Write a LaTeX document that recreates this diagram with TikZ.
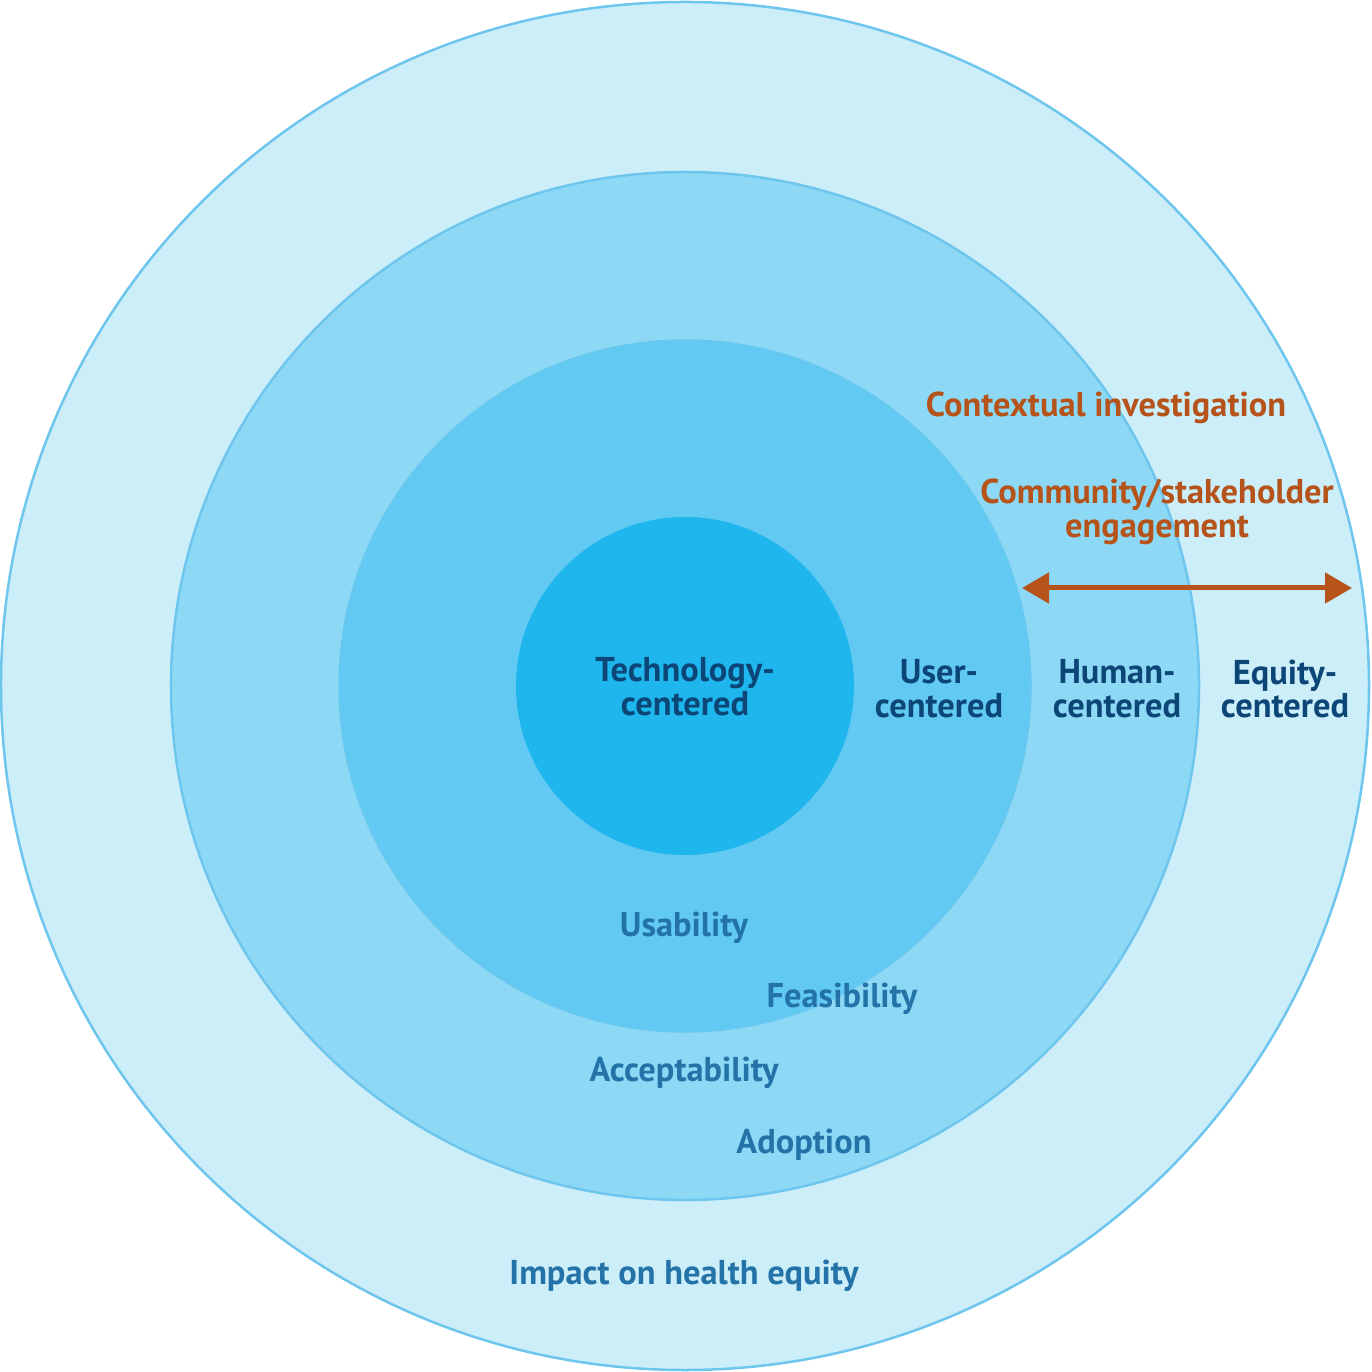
\documentclass[tikz,border=0pt]{standalone}
\usepackage{fontspec}
\setmainfont{PT Sans}
\usepackage{tikz}
\usetikzlibrary{arrows.meta}

\definecolor{ringA}{HTML}{CCEEF9}
\definecolor{ringB}{HTML}{8DD9F5}
\definecolor{ringC}{HTML}{62CAF2}
\definecolor{ringD}{HTML}{1EB6ED}
\definecolor{ringline}{HTML}{6EC6EE}
\definecolor{navy}{HTML}{0B4677}
\definecolor{steel}{HTML}{2473A8}
\definecolor{rust}{HTML}{B5531A}

\begin{document}
\begin{tikzpicture}
\tikzstyle{level}=[font=\bfseries\fontsize{9.8}{9.6}\selectfont,text=navy,align=center,inner sep=0pt]
\tikzstyle{measure}=[font=\bfseries\fontsize{9.8}{9.6}\selectfont,text=steel,inner sep=0pt]
\tikzstyle{method}=[font=\bfseries\fontsize{9.8}{9.6}\selectfont,text=rust,align=center,inner sep=0pt]
\useasboundingbox (-6.85,-6.86) rectangle (6.87,6.86);
% rings
\fill[ringA,draw=ringline,line width=0.25mm] (0,0) circle (6.84);
\fill[ringB,draw=ringline,line width=0.25mm] (0,0) circle (5.14);
\fill[ringC,draw=ringline!60!ringC,line width=0.15mm] (0,0) circle (3.46);
\fill[ringD] (0,0) circle (1.69);
% levels
\foreach \name/\point/\txt in {
	tech/{0,-0.01}/Technology-\\centered,
	user/{2.54,-0.03}/User-\\centered,
	human/{4.32,-0.03}/Human-\\centered,
	equity/{6.0,-0.03}/Equity-\\centered}
	\node[level] (\name) at (\point) {\txt};
% outcomes
\foreach \name/\point/\txt in {
	usab/{-0.01,-2.42}/Usability,
	feas/{1.57,-3.13}/Feasibility,
	accept/{-0.01,-3.87}/Acceptability,
	adopt/{1.19,-4.59}/Adoption,
	impact/{-0.01,-5.9}/Impact on health equity}
	\node[measure] (\name) at (\point) {\txt};
% methods
\node[method] (context) at (4.21,2.78) {Contextual investigation};
\node[method] (community) at (4.72,1.74) {Community/stakeholder\\engagement};
\coordinate (arrowL) at (3.37,0.98);
\coordinate (arrowR) at (6.67,0.98);
\draw[rust,line width=0.5mm,{Triangle[length=2.7mm,width=3mm]}-{Triangle[length=2.7mm,width=3mm]}] (arrowL) -- (arrowR);
\end{tikzpicture}
\end{document}
